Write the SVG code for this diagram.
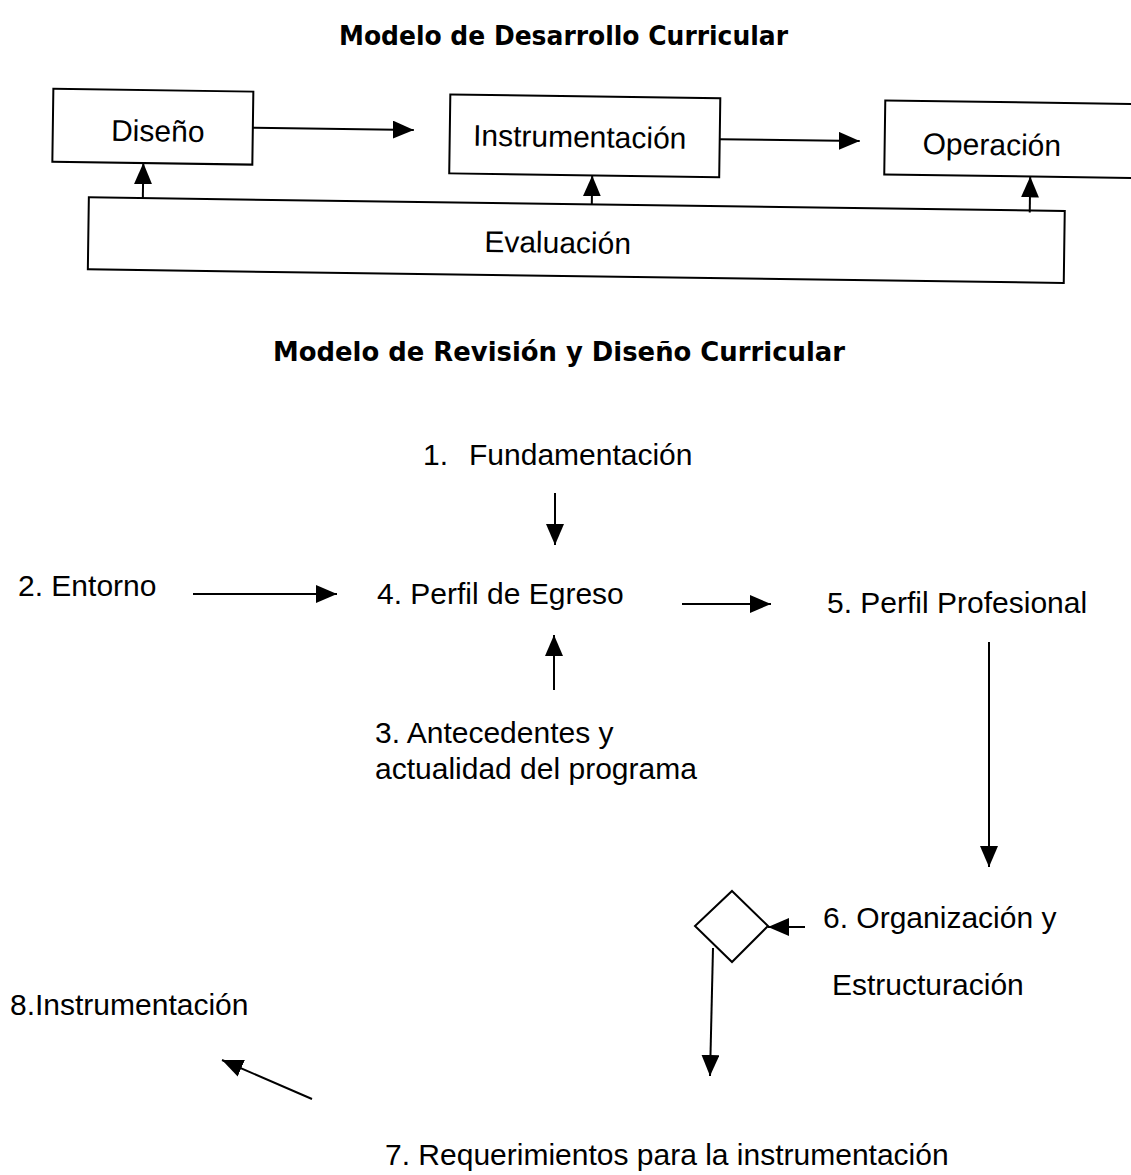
<svg xmlns="http://www.w3.org/2000/svg" width="1131" height="1175" viewBox="0 0 1131 1175">
  <style>
    .box { fill: #fff; stroke: #000; stroke-width: 2; }
    .t { font-family: "Liberation Sans", Arial, sans-serif; font-size: 30px; fill: #000; }
    .title { font-family: "DejaVu Sans", Verdana, sans-serif; font-weight: bold; font-size: 26px; fill: #000; }
    .conn { stroke: #000; stroke-width: 2; fill: none; marker-end: url(#ah); }
  </style>
  <defs>
    <marker id="ah" markerWidth="21" markerHeight="18" refX="21" refY="9" orient="auto" markerUnits="userSpaceOnUse">
      <path d="M0,0 L21,9 L0,18 z" fill="#000"/>
    </marker>
  </defs>
  <rect width="1131" height="1175" fill="#fff"/>

  <text class="title" x="339" y="45" textLength="449" lengthAdjust="spacingAndGlyphs">Modelo de Desarrollo Curricular</text>

  <g transform="rotate(0.8 565 190)">
    <g id="diseno">
      <rect class="box" x="52" y="96" width="200" height="73"/>
      <text class="t" x="157" y="147" text-anchor="middle">Diseño</text>
    </g>
    <g id="instrumentacion">
      <rect class="box" x="449" y="96" width="270" height="79"/>
      <text class="t" x="579" y="147" text-anchor="middle">Instrumentación</text>
    </g>
    <g id="operacion">
      <rect class="box" x="884" y="96" width="270" height="74"/>
      <text class="t" x="922" y="149">Operación</text>
    </g>
    <g id="evaluacion">
      <rect class="box" x="89" y="204" width="976" height="72"/>
      <text class="t" x="485" y="253">Evaluación</text>
    </g>
    <g id="connectors-top">
      <line class="conn" x1="252" y1="132" x2="413" y2="132"/>
      <line class="conn" x1="719" y1="137" x2="859" y2="137"/>
      <line class="conn" x1="143" y1="204" x2="143" y2="169"/>
      <line class="conn" x1="592" y1="204" x2="592" y2="175"/>
      <line class="conn" x1="1030" y1="206" x2="1030" y2="170"/>
    </g>
  </g>

  <text class="title" x="273" y="361" textLength="572" lengthAdjust="spacingAndGlyphs">Modelo de Revisión y Diseño Curricular</text>

  <g id="n1">
    <text class="t" x="423" y="465">1.</text>
    <text class="t" x="469" y="465">Fundamentación</text>
  </g>
  <g id="n2"><text class="t" x="18" y="596">2. Entorno</text></g>
  <g id="n4"><text class="t" x="377" y="604">4. Perfil de Egreso</text></g>
  <g id="n5"><text class="t" x="827" y="613">5. Perfil Profesional</text></g>
  <g id="n3">
    <text class="t" x="375" y="743">3. Antecedentes y</text>
    <text class="t" x="375" y="779">actualidad del programa</text>
  </g>
  <g id="diamond"><polygon class="box" points="732,891 768,926 732,962 695,926"/></g>
  <g id="n6">
    <text class="t" x="823" y="928">6. Organización y</text>
    <text class="t" x="832" y="995">Estructuración</text>
  </g>
  <g id="n8"><text class="t" x="10" y="1015">8.Instrumentación</text></g>
  <g id="n7"><text class="t" x="385" y="1165">7. Requerimientos para la instrumentación</text></g>

  <g id="connectors">
    <line class="conn" x1="555" y1="493" x2="555" y2="545"/>
    <line class="conn" x1="193" y1="594" x2="337" y2="594"/>
    <line class="conn" x1="682" y1="604" x2="771" y2="604"/>
    <line class="conn" x1="554" y1="690" x2="554" y2="635"/>
    <line class="conn" x1="989" y1="642" x2="989" y2="867"/>
    <line class="conn" x1="805" y1="927" x2="768" y2="927"/>
    <line class="conn" x1="713" y1="948" x2="710" y2="1076"/>
    <line class="conn" x1="312" y1="1099" x2="222" y2="1060"/>
  </g>
</svg>
